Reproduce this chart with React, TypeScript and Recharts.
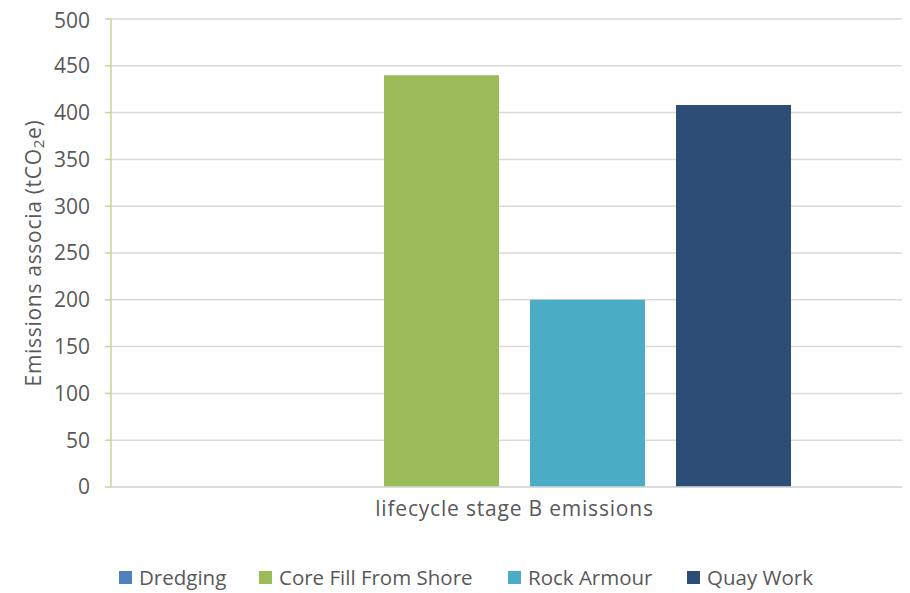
import { BarChart, Bar, XAxis, YAxis, CartesianGrid, Label } from 'recharts';

const categories = ['lifecycle stage B emissions'];
const seriesNames = ['Dredging', 'Core Fill From Shore', 'Rock Armour', 'Quay Work'];
const dredging = [0];
const coreFillFromShore = [440];
const rockArmour = [200];
const quayWork = [408];
const yTicks = [0, 50, 100, 150, 200, 250, 300, 350, 400, 450, 500];

const colors = ['#4f81bd', '#9bbb59', '#4bacc6', '#2c4d75'];
const seriesValues = [dredging, coreFillFromShore, rockArmour, quayWork];

const data = categories.map((name, i) => {
  const row: Record<string, string | number> = { name };
  seriesNames.forEach((s, j) => {
    row[s] = seriesValues[j][i];
  });
  return row;
});

const FONT = '"Open Sans", sans-serif';
const TEXT = '#595959';

// left edge of each legend entry
const legendLeft = [111, 251, 500, 679];

function YTitle(props: any) {
  const vb = props.viewBox || {};
  const cx = 25;
  const cy = vb.y + vb.height / 2;
  return (
    <text
      x={cx}
      y={cy}
      transform={`rotate(-90 ${cx} ${cy})`}
      textAnchor="middle"
      dominantBaseline="central"
      fill={TEXT}
      fontSize={21}
      letterSpacing={0.7}
      fontFamily={FONT}
    >
      Emissions associa (tCO<tspan fontSize={15} dy={5}>2</tspan>
      <tspan dy={-5}>e)</tspan>
    </text>
  );
}

export default function App() {
  return (
    <div style={{ position: 'relative', width: 902, height: 585, overflow: 'hidden' }}>
      <BarChart
        width={920}
        height={585}
        data={data}
        margin={{ top: 11, right: 10, bottom: 0, left: 0 }}
        barSize={115}
        barGap={31}
      >
        <CartesianGrid vertical={false} stroke="#d9d9d9" strokeWidth={1.5} />
        <XAxis
          dataKey="name"
          stroke="#d9d9d9"
          strokeWidth={1.5}
          tickLine={false}
          tick={{ fill: TEXT, fontSize: 21, fontFamily: FONT, letterSpacing: 0.8 }}
          tickMargin={8}
          height={106}
        />
        <YAxis
          domain={[0, 500]}
          ticks={yTicks}
          width={103}
          stroke="#c3d69b"
          strokeWidth={1.5}
          tickSize={6}
          tickMargin={15}
          tick={{ fill: TEXT, fontSize: 21, fontFamily: FONT }}
        >
          <Label content={<YTitle />} />
        </YAxis>
        {seriesNames.map((s, i) => (
          <Bar key={s} dataKey={s} fill={colors[i]} isAnimationActive={false} />
        ))}
      </BarChart>
      {seriesNames.map((s, i) => (
        <div
          key={s}
          style={{
            position: 'absolute',
            left: legendLeft[i],
            top: 555,
            display: 'flex',
            alignItems: 'center',
            fontFamily: FONT,
            fontSize: 20.5,
            color: TEXT,
            whiteSpace: 'nowrap',
          }}
        >
          <span style={{ width: 13, height: 13, background: colors[i], display: 'inline-block', marginRight: 7 }} />
          {s}
        </div>
      ))}
    </div>
  );
}
